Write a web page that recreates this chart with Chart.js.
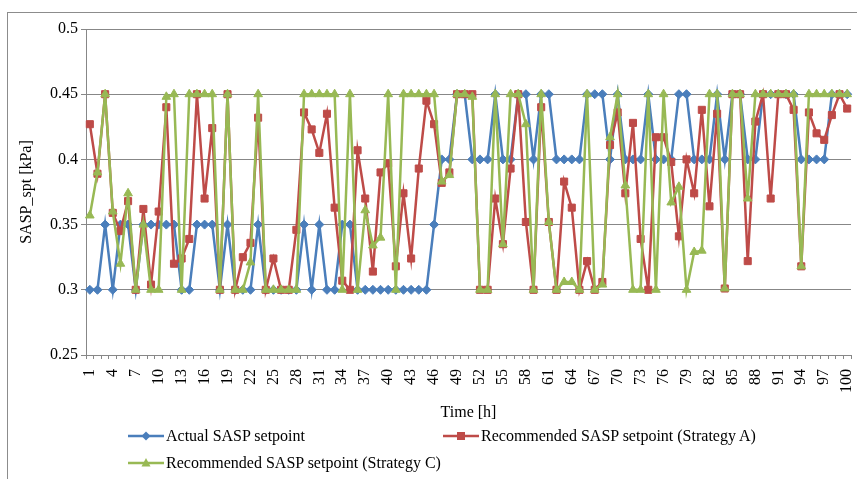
<!DOCTYPE html>
<html>
<head>
<meta charset="utf-8">
<script src="https://cdn.jsdelivr.net/npm/chart.js@4.4.1/dist/chart.umd.min.js"></script>
<style>
  html, body { margin: 0; padding: 0; background: #fff; }
  #wrap { position: relative; width: 857px; height: 479px; overflow: hidden; }
  #frame { position: absolute; left: 7px; top: 12px; width: 880px; height: 500px;
           border: 1px solid #8c8c8c; box-sizing: border-box; }
  #chart { position: absolute; left: 0; top: 0; }
  .item { position: absolute; height: 20px; display: flex; align-items: center;
          font-family: "Liberation Serif", "Times New Roman", serif; font-size: 16px;
          color: #000; white-space: nowrap; }
  .item svg { margin-right: 2px; }
</style>
</head>
<body>
<div id="wrap">
  <div id="frame"></div>
  <canvas id="chart" width="857" height="479"></canvas>
  <div id="legend"></div>
</div>
<script>
// Hours on the category axis
const hours = [
  1, 2, 3, 4, 5, 6, 7, 8, 9, 10, 11, 12, 13, 14, 15, 16, 17, 18, 19, 20,
  21, 22, 23, 24, 25, 26, 27, 28, 29, 30, 31, 32, 33, 34, 35, 36, 37, 38, 39, 40,
  41, 42, 43, 44, 45, 46, 47, 48, 49, 50, 51, 52, 53, 54, 55, 56, 57, 58, 59, 60,
  61, 62, 63, 64, 65, 66, 67, 68, 69, 70, 71, 72, 73, 74, 75, 76, 77, 78, 79, 80,
  81, 82, 83, 84, 85, 86, 87, 88, 89, 90, 91, 92, 93, 94, 95, 96, 97, 98, 99, 100
];

// Hours that carry a label on the x axis
const xTickLabels = ['1', '4', '7', '10', '13', '16', '19', '22', '25', '28', '31', '34',
  '37', '40', '43', '46', '49', '52', '55', '58', '61', '64', '67', '70', '73', '76',
  '79', '82', '85', '88', '91', '94', '97', '100'];

// Labels of the pressure axis, bottom to top
const yTickLabels = ['0.25', '0.3', '0.35', '0.4', '0.45', '0.5'];

// Supply air static pressure setpoints [kPa]
const actualSetpoint = [
  0.3, 0.3, 0.35, 0.3, 0.35, 0.35, 0.3, 0.35, 0.35, 0.35,
  0.35, 0.35, 0.3, 0.3, 0.35, 0.35, 0.35, 0.3, 0.35, 0.3,
  0.3, 0.3, 0.35, 0.3, 0.3, 0.3, 0.3, 0.3, 0.35, 0.3,
  0.35, 0.3, 0.3, 0.35, 0.35, 0.3, 0.3, 0.3, 0.3, 0.3,
  0.3, 0.3, 0.3, 0.3, 0.3, 0.35, 0.4, 0.4, 0.45, 0.45,
  0.4, 0.4, 0.4, 0.45, 0.4, 0.4, 0.45, 0.45, 0.4, 0.45,
  0.45, 0.4, 0.4, 0.4, 0.4, 0.45, 0.45, 0.45, 0.4, 0.45,
  0.4, 0.4, 0.4, 0.45, 0.4, 0.4, 0.4, 0.45, 0.45, 0.4,
  0.4, 0.4, 0.45, 0.4, 0.45, 0.45, 0.4, 0.4, 0.45, 0.45,
  0.45, 0.45, 0.45, 0.4, 0.4, 0.4, 0.4, 0.45, 0.45, 0.45
];

const strategyA = [
  0.427, 0.389, 0.45, 0.359, 0.345, 0.368, 0.3, 0.362, 0.304, 0.36,
  0.44, 0.32, 0.324, 0.339, 0.45, 0.37, 0.424, 0.3, 0.45, 0.3,
  0.325, 0.336, 0.432, 0.3, 0.324, 0.3, 0.3, 0.346, 0.436, 0.423,
  0.405, 0.435, 0.363, 0.307, 0.3, 0.407, 0.37, 0.314, 0.39, 0.397,
  0.318, 0.374, 0.324, 0.393, 0.445, 0.427, 0.382, 0.39, 0.45, 0.45,
  0.45, 0.3, 0.3, 0.37, 0.335, 0.393, 0.45, 0.352, 0.3, 0.44,
  0.352, 0.3, 0.383, 0.363, 0.3, 0.322, 0.3, 0.306, 0.411, 0.436,
  0.374, 0.428, 0.339, 0.3, 0.417, 0.417, 0.398, 0.341, 0.4, 0.374,
  0.438, 0.364, 0.435, 0.301, 0.45, 0.45, 0.322, 0.429, 0.45, 0.37,
  0.45, 0.45, 0.438, 0.318, 0.436, 0.42, 0.415, 0.434, 0.45, 0.439
];

const strategyC = [
  0.357, 0.39, 0.45, 0.36, 0.32, 0.374, 0.3, 0.35, 0.3, 0.3,
  0.448, 0.45, 0.3, 0.45, 0.45, 0.45, 0.45, 0.3, 0.45, 0.3,
  0.3, 0.321, 0.45, 0.3, 0.3, 0.3, 0.3, 0.3, 0.45, 0.45,
  0.45, 0.45, 0.45, 0.3, 0.45, 0.3, 0.361, 0.334, 0.34, 0.45,
  0.3, 0.45, 0.45, 0.45, 0.45, 0.45, 0.383, 0.388, 0.45, 0.45,
  0.448, 0.3, 0.3, 0.45, 0.335, 0.45, 0.45, 0.427, 0.3, 0.45,
  0.352, 0.3, 0.306, 0.306, 0.3, 0.45, 0.3, 0.304, 0.417, 0.45,
  0.38, 0.3, 0.3, 0.45, 0.3, 0.45, 0.367, 0.379, 0.3, 0.329,
  0.33, 0.45, 0.45, 0.301, 0.45, 0.45, 0.37, 0.45, 0.45, 0.45,
  0.45, 0.45, 0.45, 0.318, 0.45, 0.45, 0.45, 0.45, 0.45, 0.45
];

const seriesNames = [
  'Actual SASP  setpoint',
  'Recommended SASP setpoint (Strategy A)',
  'Recommended SASP setpoint (Strategy C)'
];

const BLUE = '#4a7ebb', RED = '#be4b48', GREEN = '#98b954';
const GRID = '#878787';
const SERIF = '"Liberation Serif", "Times New Roman", serif';

function lineSet(label, data, color, style, radius, order) {
  return {
    label, data, order,
    borderColor: color, backgroundColor: color,
    borderWidth: 2.5, tension: 0,
    pointStyle: style, pointRadius: radius,
    pointBorderWidth: 1, pointBorderColor: color, pointBackgroundColor: color
  };
}

const chart = new Chart(document.getElementById('chart'), {
  type: 'line',
  data: {
    labels: hours.map(String),
    datasets: [
      lineSet(seriesNames[0], actualSetpoint, BLUE, 'rectRot', 4.5, 2),
      lineSet(seriesNames[1], strategyA, RED, 'rect', 5, 1),
      lineSet(seriesNames[2], strategyC, GREEN, 'triangle', 5, 0)
    ]
  },
  options: {
    responsive: false,
    animation: false,
    events: [],
    layout: { padding: { left: 0, right: 5, top: 29, bottom: 0 } },
    plugins: { legend: { display: false }, tooltip: { enabled: false } },
    scales: {
      x: {
        offset: true,
        grid: { display: true, drawOnChartArea: false, drawTicks: true, tickLength: 4,
                color: GRID, offset: true },
        border: { display: true, color: GRID, width: 1 },
        ticks: {
          autoSkip: false, maxRotation: 90, minRotation: 90, padding: 10,
          color: '#000', font: { family: SERIF, size: 16 },
          callback: function (value, index) {
            const lab = String(hours[index]);
            return xTickLabels.includes(lab) ? lab : '';
          }
        },
        title: { display: true, text: 'Time [h]', color: '#000',
                 font: { family: SERIF, size: 16 }, padding: { top: 0, bottom: 57 } },
        afterFit: function (s) {
          s.height = 124;
          // the rotated end labels need no extra side room
          s.paddingLeft = 0;
          s.paddingRight = 0;
        }
      },
      y: {
        min: 0.25, max: 0.5,
        grid: { color: GRID, lineWidth: 1, drawTicks: true, tickLength: 5 },
        border: { display: true, color: GRID, width: 1 },
        ticks: {
          stepSize: 0.05, padding: 3, color: '#000', font: { family: SERIF, size: 16 },
          callback: function (value) {
            const i = Math.round((value - 0.25) / 0.05);
            return yTickLabels[i];
          }
        },
        title: { display: true, text: 'SASP_spt [kPa]', color: '#000',
                 font: { family: SERIF, size: 16 }, padding: { top: 17, bottom: 0 } },
        afterFit: function (s) {
          s.width = 86;
          s.paddingTop = 0;
          s.paddingBottom = 0;
        }
      }
    }
  }
});

// Legend laid out in two columns below the axis
const legendSpots = [
  { left: 128, top: 426 },
  { left: 443, top: 426 },
  { left: 128, top: 453 }
];
const markerSvg = {
  rectRot: '<polygon points="18,2.5 22.5,7 18,11.5 13.5,7" />',
  rect: '<rect x="14" y="3" width="8" height="8" />',
  triangle: '<polygon points="18,2 22.5,10.5 13.5,10.5" />'
};
const legend = document.getElementById('legend');
chart.data.datasets.forEach(function (ds, i) {
  const el = document.createElement('div');
  el.className = 'item';
  el.style.left = legendSpots[i].left + 'px';
  el.style.top = legendSpots[i].top + 'px';
  el.innerHTML =
    '<svg width="36" height="14" viewBox="0 0 36 14" fill="' + ds.borderColor + '">' +
    '<line x1="0" y1="7" x2="36" y2="7" stroke="' + ds.borderColor + '" stroke-width="2.5"/>' +
    markerSvg[ds.pointStyle] + '</svg><span></span>';
  el.querySelector('span').textContent = ds.label;
  legend.appendChild(el);
});
</script>
</body>
</html>
